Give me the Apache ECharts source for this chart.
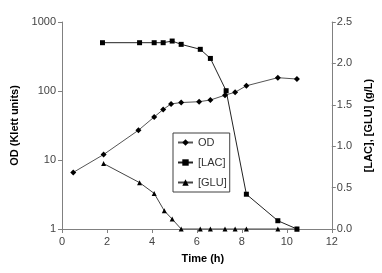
<!DOCTYPE html>
<html>
<head>
<meta charset="utf-8">
<script src="https://cdn.jsdelivr.net/npm/echarts@6/dist/echarts.min.js"></script>
<style>html,body{margin:0;padding:0;background:#fff}#c{width:382px;height:273px}</style>
</head>
<body>
<div id="c"></div>
<script>
var odTime = [0.5, 1.85, 3.4, 4.1, 4.5, 4.85, 5.3, 6.1, 6.6, 7.25, 7.7, 8.2, 9.6, 10.45];
var odValues = [6.6, 12, 27, 42, 54, 65, 68, 70, 74, 87, 96, 119, 156, 149];
var lacTime = [1.8, 3.45, 4.1, 4.5, 4.9, 5.3, 6.15, 6.6, 7.3, 8.2, 9.6, 10.45];
var lacValues = [2.25, 2.25, 2.25, 2.25, 2.27, 2.23, 2.17, 2.06, 1.67, 0.42, 0.1, 0];
var gluTime = [1.85, 3.45, 4.1, 4.55, 4.9, 5.3, 6.15, 6.6, 7.25, 7.7, 8.2, 9.6, 10.45];
var gluValues = [0.79, 0.56, 0.43, 0.22, 0.12, 0, 0, 0, 0, 0, 0, 0, 0];
var seriesNames = ['OD', '[LAC]', '[GLU]'];

function pairs(xs, ys) { return xs.map(function (x, i) { return [x, ys[i]]; }); }

var axisGray = '#808080';
var font = 'Liberation Sans, Arial, sans-serif';
var chart = echarts.init(document.getElementById('c'), null, {renderer: 'canvas'});
chart.setOption({
  animation: false,
  backgroundColor: '#fff',
  grid: {left: 62, right: 47, top: 22, bottom: 44},
  legend: {
    orient: 'vertical', left: 173, top: 133,
    data: seriesNames,
    borderColor: '#404040', borderWidth: 1,
    padding: [4, 3, 4, 4],
    itemWidth: 15, itemHeight: 8, itemGap: 9,
    textStyle: {fontFamily: font, fontSize: 11, color: '#333'}
  },
  xAxis: {
    type: 'value', min: 0, max: 12, interval: 2,
    name: 'Time (h)', nameLocation: 'middle', nameGap: 24,
    nameTextStyle: {fontFamily: font, fontSize: 11, fontWeight: 'bold', color: '#000', padding: [0, 0, 0, 12]},
    axisLine: {onZero: false, lineStyle: {color: axisGray}},
    axisTick: {show: true, inside: false, length: 4, lineStyle: {color: axisGray}},
    axisLabel: {fontFamily: font, fontSize: 11, color: '#444', margin: 7},
    splitLine: {show: false}
  },
  yAxis: [{
    type: 'log', logBase: 10, min: 1, max: 1000,
    name: 'OD (Klett units)', nameLocation: 'middle', nameGap: 31,
    nameTextStyle: {fontFamily: font, fontSize: 11, fontWeight: 'bold', color: '#000'},
    axisLine: {show: true, lineStyle: {color: axisGray}},
    axisTick: {show: true, length: 4, lineStyle: {color: axisGray}},
    axisLabel: {fontFamily: font, fontSize: 11, color: '#444', margin: 6,
      formatter: function (v) { return String(Math.round(v)); }},
    splitLine: {show: false}
  }, {
    type: 'value', min: 0, max: 2.5, interval: 0.5, position: 'right',
    name: '[LAC], [GLU] (g/L)', nameLocation: 'middle', nameGap: 30,
    nameRotate: 90,
    nameTextStyle: {fontFamily: font, fontSize: 11, fontWeight: 'bold', color: '#000'},
    axisLine: {show: true, lineStyle: {color: axisGray}},
    axisTick: {show: true, length: 4, lineStyle: {color: axisGray}},
    axisLabel: {fontFamily: font, fontSize: 11, color: '#444', margin: 5,
      formatter: function (v) { return v.toFixed(1); }},
    splitLine: {show: false}
  }],
  series: [{
    name: seriesNames[0], type: 'line', yAxisIndex: 0,
    data: pairs(odTime, odValues),
    symbol: 'diamond', symbolSize: 6,
    itemStyle: {color: '#000'}, lineStyle: {color: '#555', width: 1}
  }, {
    name: seriesNames[1], type: 'line', yAxisIndex: 1,
    data: pairs(lacTime, lacValues),
    symbol: 'rect', symbolSize: 5,
    itemStyle: {color: '#000'}, lineStyle: {color: '#222', width: 1}
  }, {
    name: seriesNames[2], type: 'line', yAxisIndex: 1,
    data: pairs(gluTime, gluValues),
    symbol: 'triangle', symbolSize: 5,
    itemStyle: {color: '#000'}, lineStyle: {color: '#444', width: 1}
  }]
});
</script>
</body>
</html>
